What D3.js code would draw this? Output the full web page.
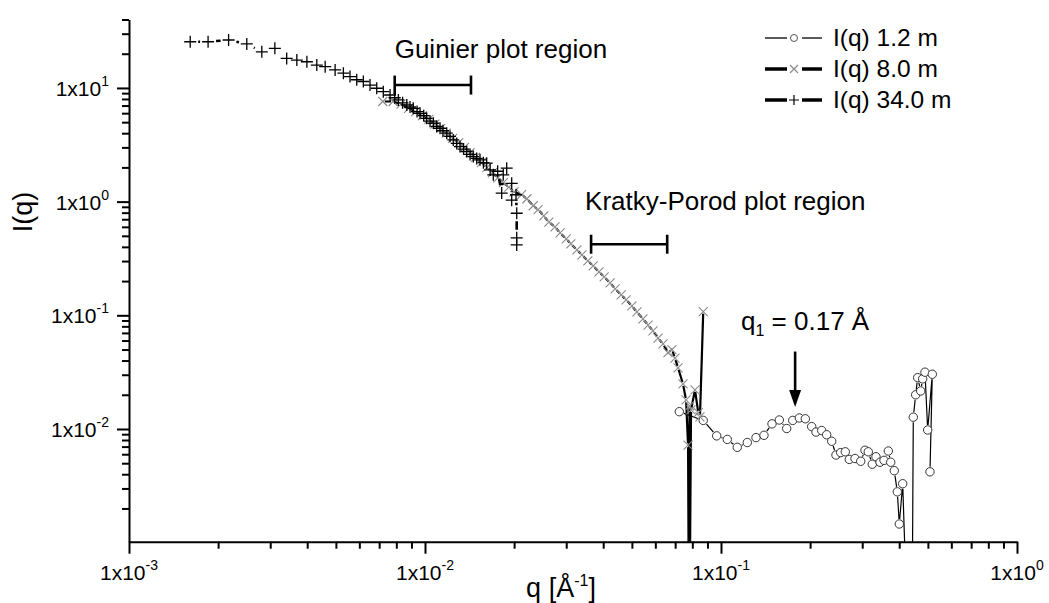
<!DOCTYPE html>
<html>
<head>
<meta charset="utf-8">
<script src="https://cdn.jsdelivr.net/npm/d3@7"></script>
<style>
  body { margin: 0; background: #fff; }
  text { font-family: "Liberation Sans", Arial, sans-serif; fill: #000; }
  .axis path, .axis line { stroke: #000; stroke-width: 2; }
</style>
</head>
<body>
<svg id="chart" width="1049" height="603"></svg>
<script>
// ---- data ----
// I(q) 1.2 m  (circles)
var q_12 = [0.0723, 0.0871, 0.0967, 0.1050, 0.1135, 0.1227, 0.1313, 0.1397, 0.1487, 0.1574,
            0.1667, 0.1747, 0.1839, 0.1927, 0.2025, 0.2094, 0.2189, 0.2275, 0.2366, 0.2446,
            0.2537, 0.2630, 0.2713, 0.2836, 0.2965, 0.3065, 0.3145, 0.3244, 0.3339, 0.3445,
            0.3554, 0.3675, 0.3744, 0.3850, 0.3941, 0.4003, 0.4110, 0.4184, 0.4436, 0.4463,
            0.4547, 0.4618, 0.4728, 0.4801, 0.4888, 0.4992, 0.5174, 0.5082];
var I_12 = [0.0142, 0.0119, 0.0087, 0.0081, 0.0069, 0.0076, 0.0084, 0.0088, 0.0111, 0.0120,
            0.0101, 0.0119, 0.0125, 0.0123, 0.0105, 0.0094, 0.0097, 0.0089, 0.0078, 0.0059,
            0.0062, 0.0063, 0.0054, 0.0055, 0.0052, 0.0065, 0.0063, 0.0049, 0.0057, 0.0051,
            0.0053, 0.0064, 0.0051, 0.0043, 0.0028, 0.00146, 0.0033, 0.0008, 0.0008, 0.0127,
            0.0200, 0.0283, 0.0216, 0.0276, 0.0316, 0.0098, 0.0303, 0.0042];

// I(q) 8.0 m  (crosses)
var q_80 = [0.0072, 0.0078, 0.0083, 0.0088, 0.0093, 0.0098, 0.0103, 0.0108, 0.0113, 0.0118,
            0.0124, 0.0130, 0.0136, 0.0142, 0.0148, 0.0155, 0.0162, 0.0169, 0.0176, 0.0184,
            0.0192, 0.0200, 0.0212, 0.0221, 0.0232, 0.0241, 0.0252, 0.0262, 0.0275, 0.0286,
            0.0300, 0.0311, 0.0326, 0.0339, 0.0355, 0.0370, 0.0387, 0.0403, 0.0422, 0.0439,
            0.0460, 0.0478, 0.0500, 0.0520, 0.0545, 0.0567, 0.0589, 0.0613, 0.0637, 0.0662,
            0.0683, 0.0699, 0.0716, 0.0744, 0.0762, 0.0774, 0.0777, 0.0783, 0.0786, 0.0792,
            0.0817, 0.0838, 0.0849, 0.0871];
var I_80 = [7.6, 7.6, 7.2, 6.6, 6.2, 5.7, 5.3, 4.8, 4.4, 4.0,
            3.6, 3.3, 3.0, 2.7, 2.45, 2.2, 2.0, 1.8, 1.62, 1.47,
            1.34, 1.22, 1.15, 1.06, 0.92, 0.85, 0.75, 0.66, 0.60, 0.53,
            0.47, 0.425, 0.376, 0.340, 0.301, 0.272, 0.241, 0.218, 0.193, 0.171,
            0.151, 0.137, 0.121, 0.107, 0.093, 0.082, 0.073, 0.063, 0.056, 0.047,
            0.050, 0.042, 0.0345, 0.0249, 0.0180, 0.0072, 0.0008, 0.0160, 0.0008, 0.0147,
            0.0221, 0.0139, 0.0128, 0.1078];

// I(q) 34.0 m  (plus)
var q_340 = [0.00161, 0.00185, 0.00217, 0.00250, 0.00281, 0.00311, 0.00341, 0.00369, 0.00399, 0.00431,
             0.00460, 0.00497, 0.00530, 0.00558, 0.00588, 0.00619, 0.00652, 0.00687, 0.00723, 0.00762,
             0.00790, 0.00813, 0.00840, 0.00868, 0.00890, 0.00913, 0.00940, 0.00962, 0.00990, 0.01013,
             0.01040, 0.01067, 0.01095, 0.01124, 0.01150, 0.01184, 0.01215, 0.01246, 0.01280, 0.01313,
             0.01350, 0.01383, 0.01420, 0.01456, 0.01495, 0.01534, 0.01575, 0.01616, 0.01660, 0.01701,
             0.01760, 0.01816, 0.01838, 0.01888, 0.01963, 0.01963, 0.02030, 0.02041, 0.02041, 0.02041];
var I_340 = [25.5, 25.5, 26.4, 24.4, 20.8, 22.3, 18.2, 17.6, 17.0, 15.9,
             15.4, 14.4, 13.5, 12.6, 11.8, 11.4, 10.6, 9.94, 9.27, 8.67,
             8.2, 7.84, 7.4, 7.08, 6.8, 6.62, 6.2, 5.98, 5.7, 5.41,
             5.1, 4.89, 4.6, 4.42, 4.2, 4.00, 3.75, 3.49, 3.25, 3.05,
             2.9, 2.76, 2.6, 2.49, 2.4, 2.33, 2.2, 2.18, 1.9, 1.72,
             1.85, 1.19, 1.72, 1.97, 1.45, 1.03, 1.15, 0.79, 0.48, 0.416];

// axis ticks / labels
var qMajor = [1e-3, 1e-2, 1e-1, 1];
var qExp   = ["-3", "-2", "-1", "0"];
var iMajor = [1e-2, 1e-1, 1, 10];
var iExp   = ["-2", "-1", "0", "1"];
var minorMult = [2, 3, 4, 5, 6, 7, 8, 9];

// annotation values
var guinierRange = [0.0079, 0.0143], guinierI = 10.6;
var kratkyRange  = [0.0364, 0.0658], kratkyI  = 0.422;
var q1Value = 0.178, q1Arrow = [0.048, 0.0156];

var legendNames = ["I(q) 1.2 m", "I(q) 8.0 m", "I(q) 34.0 m"];

// ---- layout ----
var x0 = 129, x1 = 1017, yTop = 19.5, yBot = 541.7;

var svg = d3.select("#chart");

var xscale = d3.scaleLog().domain([1e-3, 1]).range([x0, x1]);
var yscale = d3.scaleLog().domain([0.00102, 40]).range([yBot, yTop]);

function minorTicks(majors, dom) {
  var out = [];
  majors.forEach(function(m) {
    minorMult.forEach(function(k) {
      var v = m * k;
      if (v > dom[0] * 1.0001 && v <= dom[1] * 1.0001) out.push(v);
    });
  });
  return out;
}

// x axis
svg.append("g").attr("class", "axis").attr("transform", "translate(0," + yBot + ")")
   .call(d3.axisBottom(xscale).tickValues(qMajor).tickSize(12).tickSizeOuter(0).tickFormat(""));
svg.append("g").attr("class", "axis").attr("transform", "translate(0," + yBot + ")")
   .call(d3.axisBottom(xscale).tickValues(minorTicks([1e-3, 1e-2, 1e-1], [1e-3, 1])).tickSize(7).tickSizeOuter(0).tickFormat(""))
   .select(".domain").remove();

// y axis
svg.append("g").attr("class", "axis").attr("transform", "translate(" + x0 + ",0)")
   .call(d3.axisLeft(yscale).tickValues(iMajor).tickSize(12).tickSizeOuter(0).tickFormat(""));
svg.append("g").attr("class", "axis").attr("transform", "translate(" + x0 + ",0)")
   .call(d3.axisLeft(yscale).tickValues(minorTicks([1e-3, 1e-2, 1e-1, 1, 10], [0.00102, 40])).tickSize(7).tickSizeOuter(0).tickFormat(""))
   .select(".domain").remove();

// tick labels with superscripts
function sciLabel(sel, exp) {
  sel.append("tspan").text("1x10");
  sel.append("tspan").attr("dy", -10).style("font-size", "14px").text(exp);
}
qMajor.forEach(function(v, i) {
  svg.append("text").attr("x", xscale(v)).attr("y", 580)
     .attr("text-anchor", "middle").style("font-size", "21px")
     .call(sciLabel, qExp[i]);
});
iMajor.forEach(function(v, i) {
  svg.append("text").attr("x", 109).attr("y", yscale(v) + 8)
     .attr("text-anchor", "end").style("font-size", "21px")
     .call(sciLabel, iExp[i]);
});

// axis titles
var xt = svg.append("text").attr("x", 561).attr("y", 597).attr("text-anchor", "middle").style("font-size", "27px");
xt.append("tspan").text("q [Å");
xt.append("tspan").attr("dy", -11).style("font-size", "16px").text("-1");
xt.append("tspan").attr("dy", 11).text("]");

svg.append("text").attr("text-anchor", "middle").style("font-size", "27px")
   .attr("transform", "translate(32,212) rotate(-90)").text("I(q)");

// ---- data ----
svg.append("clipPath").attr("id", "clip").append("rect")
   .attr("x", x0).attr("y", 0).attr("width", x1 - x0).attr("height", yBot);
var plot = svg.append("g").attr("clip-path", "url(#clip)");

function zipData(qs, is) { return qs.map(function(q, i) { return {q: q, I: is[i]}; }); }

// connecting line with a gap left around each symbol
function gapLine(data, gap) {
  var p = d3.path();
  for (var i = 1; i < data.length; i++) {
    var ax = xscale(data[i - 1].q), ay = yscale(data[i - 1].I);
    var bx = xscale(data[i].q),     by = yscale(data[i].I);
    var dx = bx - ax, dy = by - ay, L = Math.sqrt(dx * dx + dy * dy);
    if (L <= 2 * gap) continue;
    var ux = dx / L, uy = dy / L;
    p.moveTo(ax + ux * gap, ay + uy * gap);
    p.lineTo(bx - ux * gap, by - uy * gap);
  }
  return p.toString();
}

var crossPath = "M-4.5,-4.5L4.5,4.5M-4.5,4.5L4.5,-4.5";
var plusPath  = "M-6,0L6,0M0,-6L0,6";

var series = [
  {data: zipData(q_12, I_12),   lw: 1.2, gap: 5, marker: "circle"},
  {data: zipData(q_80, I_80),   lw: 2.2, gap: 2, marker: "cross"},
  {data: zipData(q_340, I_340), lw: 2.6, gap: 8, marker: "plus"}
];

series.forEach(function(s) {
  plot.append("path").attr("d", gapLine(s.data, s.gap))
      .attr("fill", "none").attr("stroke", "#000").attr("stroke-width", s.lw);
  var g = plot.append("g");
  if (s.marker === "circle") {
    g.selectAll("circle").data(s.data).enter().append("circle")
     .attr("cx", function(d) { return xscale(d.q); })
     .attr("cy", function(d) { return yscale(d.I); })
     .attr("r", 4.2).attr("fill", "#fff").attr("stroke", "#333").attr("stroke-width", 1);
  } else {
    g.selectAll("path").data(s.data).enter().append("path")
     .attr("d", s.marker === "cross" ? crossPath : plusPath)
     .attr("transform", function(d) { return "translate(" + xscale(d.q) + "," + yscale(d.I) + ")"; })
     .attr("fill", "none")
     .attr("stroke", s.marker === "cross" ? "#8a8a8a" : "#000")
     .attr("stroke-width", s.marker === "cross" ? 1.1 : 1.3);
  }
});

// ---- annotations ----
function bracket(range, I) {
  var y = yscale(I), a = xscale(range[0]), b = xscale(range[1]);
  var g = svg.append("g").attr("stroke", "#000").attr("stroke-width", 2.6);
  g.append("line").attr("x1", a).attr("x2", b).attr("y1", y).attr("y2", y);
  g.append("line").attr("x1", a).attr("x2", a).attr("y1", y - 9.5).attr("y2", y + 9.5);
  g.append("line").attr("x1", b).attr("x2", b).attr("y1", y - 9.5).attr("y2", y + 9.5);
}
bracket(guinierRange, guinierI);
bracket(kratkyRange, kratkyI);

svg.append("text").attr("x", xscale(guinierRange[0])).attr("y", 58)
   .style("font-size", "26px").text("Guinier plot region");
svg.append("text").attr("x", xscale(kratkyRange[0]) - 6).attr("y", 210)
   .style("font-size", "26px").text("Kratky-Porod plot region");

// q1 arrow
var ax = xscale(q1Value), ay0 = yscale(q1Arrow[0]), ay1 = yscale(q1Arrow[1]);
svg.append("line").attr("x1", ax).attr("x2", ax).attr("y1", ay0).attr("y2", ay1 - 14)
   .attr("stroke", "#000").attr("stroke-width", 2.6);
svg.append("path").attr("d", "M" + (ax - 6) + "," + (ay1 - 17) + "L" + (ax + 6) + "," + (ay1 - 17) + "L" + ax + "," + ay1 + "Z")
   .attr("fill", "#000");
var qt = svg.append("text").attr("x", 741).attr("y", 330).style("font-size", "26px");
qt.append("tspan").text("q");
qt.append("tspan").attr("dy", 6).style("font-size", "16px").text("1");
qt.append("tspan").attr("dy", -6).text(" = 0.17 Å");

// ---- legend ----
var legY = [38, 69, 100];
var legLw = [1.3, 3.5, 3.5];
legendNames.forEach(function(name, i) {
  var y = legY[i];
  svg.append("line").attr("x1", 765).attr("x2", 787).attr("y1", y).attr("y2", y)
     .attr("stroke", "#000").attr("stroke-width", legLw[i]);
  svg.append("line").attr("x1", 802).attr("x2", 822).attr("y1", y).attr("y2", y)
     .attr("stroke", "#000").attr("stroke-width", legLw[i]);
  if (i === 0) {
    svg.append("circle").attr("cx", 794).attr("cy", y).attr("r", 3.5)
       .attr("fill", "#fff").attr("stroke", "#555").attr("stroke-width", 1);
  } else {
    svg.append("path").attr("d", i === 1 ? "M-4,-4L4,4M-4,4L4,-4" : "M-5,0L5,0M0,-5L0,5")
       .attr("transform", "translate(794," + y + ")")
       .attr("fill", "none").attr("stroke", i === 1 ? "#8a8a8a" : "#000").attr("stroke-width", 1.2);
  }
  svg.append("text").attr("x", 833).attr("y", y + 8).style("font-size", "24.5px").text(name);
});
</script>
</body>
</html>
